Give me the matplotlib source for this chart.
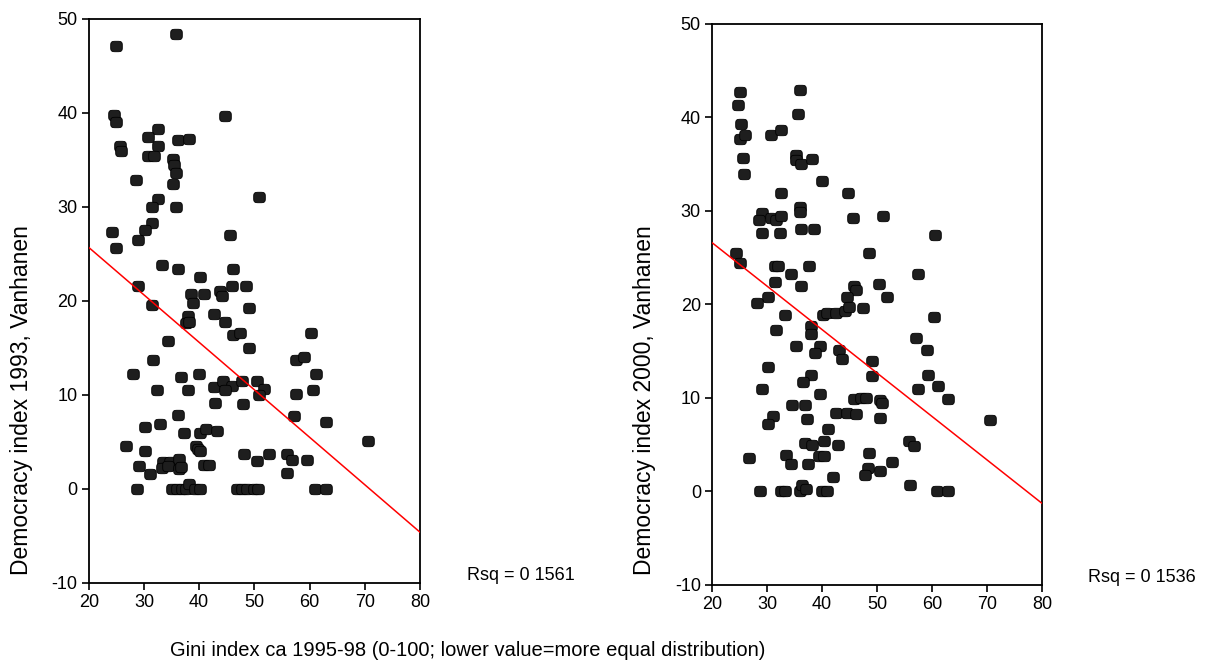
import numpy as np
import matplotlib
matplotlib.use("Agg")
import matplotlib.pyplot as plt
from matplotlib.path import Path

plt.rcParams['font.family'] = ['Liberation Sans', 'DejaVu Sans']
plt.rcParams['axes.unicode_minus'] = False

# ---- data ----
gini_93 = [35.8, 24.9, 24.6, 24.9, 44.6, 32.6, 30.8, 36.1, 38.2, 32.6, 25.6, 25.9, 30.8, 31.8, 35.2, 35.5,
           35.8, 28.5, 35.2, 50.8, 32.6, 31.4, 35.8, 31.4, 30.2, 24.3, 45.6, 29.0, 24.9, 33.2, 36.1, 40.2,
           46.1, 29.0, 45.9, 48.5, 38.5, 40.8, 43.8, 44.1,
           31.4, 38.8, 49.1, 42.6, 37.9, 37.6, 38.1, 44.6, 46.2, 47.4, 60.3, 34.4, 49.1, 31.7, 57.5, 59.0,
           28.1, 40.0, 61.2, 36.7, 32.3, 37.9, 42.6, 44.4, 45.9, 47.7, 50.5, 51.7, 50.8, 44.7, 60.6, 57.5,
           42.9, 47.9, 36.1, 57.1, 62.9,
           30.2, 32.9, 37.3, 40.2, 41.2, 43.2, 26.7, 30.2, 39.4, 39.7, 40.2, 70.6, 48.2, 50.5, 52.7, 55.9,
           56.8, 59.5, 55.9, 29.1, 31.1, 33.5, 34.7, 36.4, 33.2, 34.4, 36.3, 36.7, 40.8, 41.7, 28.8, 35.0,
           35.9, 36.8, 37.6, 38.2, 39.3, 40.2, 46.8, 47.7, 48.6, 49.9, 50.7, 60.9, 63.0]
dem_93 = [48.4, 47.1, 39.8, 39.0, 39.7, 38.3, 37.4, 37.1, 37.2, 36.5, 36.5, 36.0, 35.4, 35.4, 35.1, 34.5,
          33.6, 32.9, 32.4, 31.1, 30.9, 30.0, 30.0, 28.3, 27.6, 27.3, 27.0, 26.5, 25.6, 23.8, 23.4, 22.5,
          23.4, 21.6, 21.6, 21.6, 20.7, 20.7, 21.1, 20.5,
          19.6, 19.8, 19.3, 18.6, 18.4, 17.7, 17.8, 17.8, 16.4, 16.6, 16.6, 15.7, 15.0, 13.7, 13.7, 14.0,
          12.2, 12.2, 12.2, 11.9, 10.5, 10.5, 10.8, 11.5, 11.0, 11.5, 11.5, 10.6, 10.0, 10.5, 10.5, 10.1,
          9.2, 9.0, 7.9, 7.8, 7.1,
          6.6, 6.9, 6.0, 6.0, 6.4, 6.2, 4.6, 4.0, 4.6, 4.3, 4.0, 5.1, 3.7, 3.0, 3.7, 3.7,
          3.1, 3.1, 1.7, 2.4, 1.6, 2.9, 2.9, 3.2, 2.2, 2.4, 2.1, 2.3, 2.6, 2.6, 0.0, 0.0,
          0.0, 0.0, 0.0, 0.5, 0.0, 0.0, 0.0, 0.0, 0.0, 0.0, 0.0, 0.0, 0.0]

gini_00 = [25.0, 24.7, 35.9, 35.6, 25.3, 25.0, 26.0, 30.8, 32.6, 25.6, 35.3, 35.3, 36.2, 38.2, 25.9, 39.9,
           32.6, 44.7, 35.9, 35.9, 29.1, 28.5, 30.8, 31.6, 32.6, 45.6, 51.0, 29.1, 32.3, 36.2, 38.5, 60.5,
           24.4, 25.0, 48.6, 31.4, 32.0, 37.6, 34.4, 57.5, 31.4, 36.2, 45.8, 50.3, 46.1, 30.2, 28.2, 44.6,
           51.7,
           33.3, 40.2, 40.8, 42.6, 44.2, 44.8, 47.4, 31.7, 37.9, 37.9, 60.3, 57.0, 35.3, 39.6, 38.7, 43.1,
           43.7, 59.0, 30.2, 49.1, 49.1, 59.3, 29.1, 38.0, 36.5, 57.5, 61.1, 39.7, 45.8, 47.0, 48.0, 50.5,
           50.9, 62.9, 34.6, 36.8, 31.1, 30.2, 37.3, 42.6, 44.5, 46.2, 50.5, 70.5, 41.1, 40.3, 36.8, 38.2,
           42.9, 55.8, 56.7, 26.8, 33.5, 34.4, 37.4, 39.4, 40.4, 48.5, 48.4, 47.7, 50.6, 52.7, 42.0, 55.9,
           28.8, 32.5, 33.3, 36.0, 36.4, 37.0, 40.0, 40.9, 60.8, 62.9]
dem_00 = [42.7, 41.3, 42.9, 40.4, 39.3, 37.7, 38.1, 38.1, 38.6, 35.7, 36.0, 35.4, 35.0, 35.5, 33.9, 33.2,
          31.9, 31.9, 30.4, 29.9, 29.8, 29.0, 29.2, 29.0, 29.4, 29.2, 29.4, 27.6, 27.6, 28.1, 28.1, 27.4,
          25.5, 24.4, 25.5, 24.1, 24.1, 24.1, 23.2, 23.2, 22.4, 22.0, 22.0, 22.2, 21.5, 20.8, 20.2, 20.8,
          20.8,
          18.9, 18.9, 19.1, 19.1, 19.3, 19.7, 19.6, 17.3, 17.7, 16.8, 18.6, 16.4, 15.6, 15.6, 14.8, 15.1,
          14.2, 15.1, 13.3, 13.9, 12.3, 12.4, 10.9, 12.4, 11.7, 10.9, 11.3, 10.4, 9.9, 10.0, 10.0, 9.8,
          9.5, 9.9, 9.2, 9.2, 8.1, 7.2, 7.7, 8.4, 8.4, 8.3, 7.9, 7.6, 6.7, 5.4, 5.2, 5.0,
          5.0, 5.4, 4.9, 3.6, 3.9, 2.9, 2.9, 3.8, 3.8, 4.1, 2.5, 1.8, 2.2, 3.1, 1.5, 0.7,
          0.0, 0.0, 0.0, 0.0, 0.7, 0.3, 0.0, 0.0, 0.0, 0.0]

# fitted regression lines (intercept, slope) as drawn in the chart
fit_93 = (35.8, -0.505)
fit_00 = (35.9, -0.465)
rsq_labels = ["Rsq = 0 1561", "Rsq = 0 1536"]
ylabels = ["Democracy index 1993, Vanhanen", "Democracy index 2000, Vanhanen"]
xlabel = "Gini index ca 1995-98 (0-100; lower value=more equal distribution)"
xticks = [20, 30, 40, 50, 60, 70, 80]
yticks = [-10, 0, 10, 20, 30, 40, 50]

# rounded-square (superellipse) marker
t = np.linspace(0, 2 * np.pi, 60)
mx = np.sign(np.cos(t)) * np.abs(np.cos(t)) ** 0.5
my = np.sign(np.sin(t)) * np.abs(np.sin(t)) ** 0.5 * 0.9
marker = Path(np.column_stack([mx, my]), closed=True)

fig = plt.figure(figsize=(12.14, 6.64), dpi=100)
fig.patch.set_facecolor('white')

axes_rects = [[0.0731, 0.1220, 0.2729, 0.8494], [0.5865, 0.1190, 0.2721, 0.8452]]
datasets = [(gini_93, dem_93, fit_93), (gini_00, dem_00, fit_00)]
ylabel_x = [22, 645]
rsq_pos = [(467, 575), (1088, 577)]

for i, (rect, (gx, dy, fit)) in enumerate(zip(axes_rects, datasets)):
    ax = fig.add_axes(rect)
    ax.set_xlim(20, 80)
    ax.set_ylim(-10, 50)
    ax.scatter(gx, dy, s=70, marker=marker, facecolor='#1e1e1e', edgecolor='black',
               linewidths=0.6, zorder=3)
    xs = np.array(ax.get_xlim())
    ax.plot(xs, fit[0] + fit[1] * xs, color='red', lw=1.1, zorder=4)
    ax.set_xticks(xticks)
    ax.set_yticks(yticks)
    ax.tick_params(direction='out', length=5, width=1.2, labelsize=13, pad=3,
                   top=False, right=False)
    for sp in ax.spines.values():
        sp.set_linewidth(1.3)
        sp.set_color('black')
    fig.text(ylabel_x[i] / 1214, 1 - 400 / 664, ylabels[i], rotation=90,
             ha='center', va='center', fontsize=16.5)
    fig.text(rsq_pos[i][0] / 1214, 1 - rsq_pos[i][1] / 664, rsq_labels[i],
             ha='left', va='center', fontsize=13)

fig.text(468 / 1214, 1 - 651 / 664, xlabel, ha='center', va='center', fontsize=14.5)

fig.savefig('out.png', dpi=100, facecolor='white')
